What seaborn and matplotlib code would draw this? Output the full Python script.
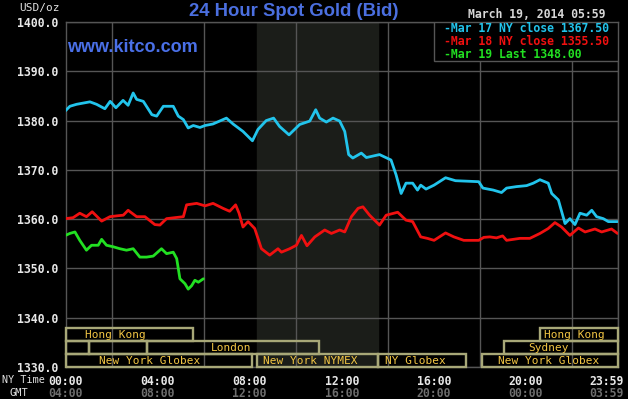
import numpy as np
import pandas as pd
import matplotlib.pyplot as plt
import matplotlib.transforms as mtransforms
from matplotlib.patches import Rectangle
import seaborn as sns
#
# Data (hours since 00:00 NY time, USD/oz)
mar17_hours = [0, 0.19, 0.48, 1.06, 1.35, 1.71, 1.94, 2.19, 2.5, 2.72, 2.94, 3.09, 3.38, 3.75, 3.96,
               4.25, 4.68, 4.9, 5.12, 5.33, 5.55, 5.84, 6.06, 6.4, 6.99, 7.28, 7.71, 8.12, 8.36, 8.72,
               9.04, 9.3, 9.71, 10.17, 10.61, 10.87, 11.04, 11.33, 11.62, 11.91, 12.13, 12.3, 12.48,
               12.85, 13.07, 13.64, 14.14, 14.36, 14.58, 14.79, 15.08, 15.29, 15.43, 15.66, 16.01,
               16.51, 16.94, 17.95, 18.13, 18.58, 18.94, 19.16, 19.59, 20.03, 20.32, 20.61, 20.97,
               21.12, 21.41, 21.7, 21.91, 22.13, 22.35, 22.64, 22.86, 23.07, 23.36, 23.58, 23.98]
mar17_price = [1382.0, 1382.9, 1383.3, 1383.8, 1383.3, 1382.4, 1383.9, 1382.6, 1384.1, 1383.1, 1385.6,
               1384.3, 1383.9, 1381.2, 1380.9, 1382.9, 1382.9, 1380.9, 1380.2, 1378.5, 1379.0, 1378.6,
               1379.0, 1379.3, 1380.5, 1379.3, 1377.8, 1375.9, 1378.2, 1380.0, 1380.5, 1378.8, 1377.1,
               1379.2, 1379.9, 1382.2, 1380.5, 1379.7, 1380.5, 1379.9, 1377.8, 1373.1, 1372.4, 1373.4,
               1372.5, 1373.1, 1372.0, 1369.0, 1365.2, 1367.3, 1367.3, 1365.9, 1366.9, 1366.1, 1366.9,
               1368.4, 1367.8, 1367.6, 1366.3, 1365.9, 1365.4, 1366.3, 1366.6, 1366.8, 1367.3, 1368.0,
               1367.3, 1365.2, 1363.9, 1359.1, 1360.1, 1358.9, 1361.2, 1360.8, 1361.8, 1360.5, 1360.1,
               1359.5, 1359.5]

mar18_hours = [0, 0.33, 0.62, 0.91, 1.16, 1.57, 1.93, 2.29, 2.51, 2.72, 3.09, 3.45, 3.88, 4.1, 4.39,
               4.75, 5.12, 5.26, 5.7, 6.06, 6.41, 6.84, 7.13, 7.39, 7.54, 7.71, 7.93, 8.22, 8.51, 8.87,
               9.23, 9.38, 9.74, 10.03, 10.25, 10.49, 10.83, 11.26, 11.55, 11.91, 12.13, 12.42, 12.71,
               12.92, 13.21, 13.64, 13.93, 14.43, 14.79, 15.08, 15.43, 15.72, 16.01, 16.51, 16.87, 17.3,
               17.95, 18.17, 18.43, 18.72, 18.99, 19.16, 19.74, 20.17, 20.61, 20.97, 21.26, 21.55,
               21.91, 22.28, 22.57, 23.0, 23.29, 23.72, 23.98]
mar18_price = [1360.1, 1360.3, 1361.2, 1360.5, 1361.5, 1359.6, 1360.5, 1360.7, 1360.8, 1361.8, 1360.5,
               1360.5, 1358.9, 1358.8, 1360.1, 1360.3, 1360.5, 1362.9, 1363.2, 1362.7, 1363.2, 1362.2,
               1361.6, 1362.9, 1361.2, 1358.4, 1359.5, 1358.1, 1354.0, 1352.7, 1354.0, 1353.3, 1354.0,
               1354.7, 1356.7, 1354.6, 1356.4, 1357.8, 1357.1, 1357.8, 1357.4, 1360.5, 1362.2, 1362.5,
               1360.8, 1358.8, 1360.8, 1361.4, 1359.8, 1359.5, 1356.4, 1356.1, 1355.7, 1357.2, 1356.4,
               1355.7, 1355.7, 1356.3, 1356.4, 1356.2, 1356.6, 1355.7, 1356.1, 1356.1, 1357.1, 1358.1,
               1359.3, 1358.4, 1356.7, 1358.2, 1357.4, 1358.0, 1357.4, 1358.0, 1357.1]

mar19_hours = [0, 0.19, 0.41, 0.62, 0.91, 1.13, 1.42, 1.57, 1.78, 2.07, 2.36, 2.65, 2.94, 3.23, 3.52,
               3.81, 4.17, 4.39, 4.68, 4.83, 4.97, 5.19, 5.33, 5.48, 5.62, 5.77, 5.99]
mar19_price = [1356.7, 1357.1, 1357.4, 1355.7, 1353.7, 1354.7, 1354.7, 1355.9, 1354.7, 1354.4, 1354.0,
               1353.7, 1354.0, 1352.3, 1352.3, 1352.5, 1354.0, 1353.0, 1353.3, 1352.0, 1347.9, 1346.9,
               1345.8, 1346.5, 1347.6, 1347.2, 1347.9]

legend_labels = ['Mar 17 NY close 1367.50', 'Mar 18 NY close 1355.50', 'Mar 19 Last 1348.00']
ny_ticks = [0, 4, 8, 12, 16, 20, 23.983]
ny_labels = ['00:00', '04:00', '08:00', '12:00', '16:00', '20:00', '23:59']
gmt_labels = ['04:00', '08:00', '12:00', '16:00', '20:00', '00:00', '03:59']

# market sessions: (start hour, end hour, row, label, label hour)
sessions = [(0, 5.55, 0, 'Hong Kong', 2.15), (20.6, 24, 0, 'Hong Kong', 22.1),
            (0, 1.0, 1, '', 0), (1.0, 3.55, 1, '', 0), (3.55, 11.0, 1, 'London', 7.2),
            (19.04, 24, 1, 'Sydney', 21.0),
            (0, 8.1, 2, 'New York Globex', 3.65), (8.33, 13.57, 2, 'New York NYMEX', 10.65),
            (13.57, 17.4, 2, 'NY Globex', 15.2), (18.1, 24, 2, 'New York Globex', 21.0)]
nymex_open, nymex_close = 8.33, 13.57
#
sns.set_style('dark')
plt.rcParams['font.family'] = ['DejaVu Sans Mono', 'DejaVu Sans']
grid_c = '#555555'
mono = dict(family='DejaVu Sans Mono', fontweight='bold')

fig = plt.figure(figsize=(6.28, 3.99), dpi=100, facecolor='black')
ax = fig.add_axes([65.5 / 628, 32 / 399, 552.5 / 628, 345 / 399])
ax.set_facecolor('black')

# NYMEX shaded period
ax.axvspan(nymex_open, nymex_close, color='#1b1d19', zorder=0)

cols = ['#22c4ec', '#f01010', '#22e022']
series = [(mar17_hours, mar17_price), (mar18_hours, mar18_price), (mar19_hours, mar19_price)]
for (h, p), c in zip(series, cols):
    sns.lineplot(x=h, y=p, color=c, linewidth=2.0, ax=ax, zorder=3)

ax.set_xlim(0, 24)
ax.set_ylim(1330, 1400)
ax.set_yticks(np.arange(1330, 1401, 10))
ax.set_yticklabels(['%.1f' % v for v in np.arange(1330, 1401, 10)], color='#e8e8e8', fontsize=8.3, **mono)
ax.set_xticks(ny_ticks)
ax.set_xticklabels(ny_labels, color='#e8e8e8', fontsize=8.3, **mono)
ax.set_xticks(np.arange(0, 25, 2), minor=True)
ax.tick_params(axis='both', which='both', length=0)
ax.tick_params(axis='y', pad=5)
ax.tick_params(axis='x', pad=6)
ax.grid(False)
ax.grid(axis='y', which='major', color=grid_c, linewidth=1)
ax.grid(axis='x', which='minor', color=grid_c, linewidth=1)
ax.set_axisbelow(True)
for s in ax.spines.values():
    s.set_color(grid_c)
    s.set_linewidth(1)

# last time label sits left of the edge
last = ax.get_xticklabels()[-1]
last.set_horizontalalignment('right')
last.set_transform(last.get_transform() + mtransforms.ScaledTranslation(0.06, 0, fig.dpi_scale_trans))

# session boxes
row_h = 2.65
box_c = '#a8a878'
for start, end, row, label, lx in sessions:
    bottom = 1330 + (2 - row) * row_h
    ax.add_patch(Rectangle((start, bottom), end - start, row_h, fill=False,
                           edgecolor=box_c, linewidth=1.7, zorder=4, clip_on=False))
    if label:
        ax.text(lx, bottom + row_h / 2 - 0.1, label, color='#f2c544', fontsize=8,
                family='DejaVu Sans Mono', ha='center', va='center', zorder=5)

# legend box
ax.add_patch(Rectangle((16.02, 1392.05), 24 - 16.02, 7.95, facecolor='black',
                       edgecolor=grid_c, linewidth=1, zorder=5))
for i, (lab, c) in enumerate(zip(legend_labels, cols)):
    fig.text(444 / 628, 1 - (29 + i * 12.5) / 399, '-' + lab, color=c, fontsize=8.3,
             ha='left', va='center', **mono)

# GMT row and left labels
for i, (t, lab) in enumerate(zip(ny_ticks, gmt_labels)):
    last_one = i == len(gmt_labels) - 1
    tr = ax.get_xaxis_transform()
    if last_one:
        tr = tr + mtransforms.ScaledTranslation(0.06, 0, fig.dpi_scale_trans)
    ax.text(t, -0.078, lab, transform=tr, color='#6e6e6e', fontsize=8.3,
            ha='right' if last_one else 'center', va='center', **mono)
fig.text(2 / 628, 1 - 380 / 399, 'NY Time', color='#e0e0e0', fontsize=7.3, ha='left', va='center',
         family='DejaVu Sans Mono')
fig.text(19 / 628, 1 - 393 / 399, 'GMT', color='#e0e0e0', fontsize=7.5, ha='center', va='center',
         family='DejaVu Sans Mono')
fig.text(40 / 628, 1 - 8 / 399, 'USD/oz', color='#e0e0e0', fontsize=8, ha='center', va='center',
         family='DejaVu Sans Mono')

# titles
fig.text(294 / 628, 1 - 11 / 399, '24 Hour Spot Gold (Bid)', color='#4b6fe0', fontsize=13.3,
         family='Liberation Sans', fontweight='bold', ha='center', va='center')
fig.text(67 / 628, 1 - 48 / 399, 'www.kitco.com', color='#4a70e8', fontsize=13,
         family='Liberation Sans', fontweight='bold', ha='left', va='center')
fig.text(537 / 628, 1 - 15 / 399, 'March 19, 2014 05:59', color='#d8d8d8', fontsize=8.3,
         ha='center', va='center', **mono)

plt.savefig('out.png', dpi=100, facecolor='black')
